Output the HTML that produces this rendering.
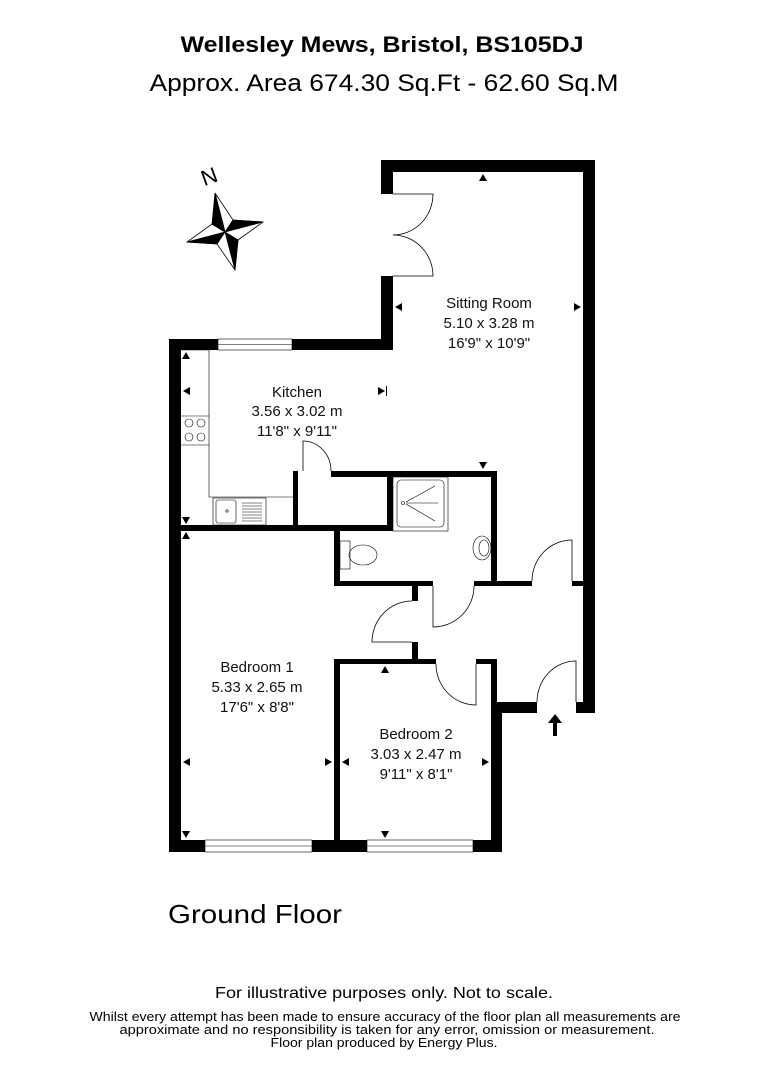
<!DOCTYPE html>
<html><head><meta charset="utf-8"><style>html,body{margin:0;padding:0;background:#fff}svg{display:block}</style></head>
<body>
<svg width="764" height="1080" viewBox="0 0 764 1080" xmlns="http://www.w3.org/2000/svg" font-family="Liberation Sans, sans-serif">
<rect width="764" height="1080" fill="#fff"/>
<text x="382" y="52" text-anchor="middle" font-size="22" font-weight="bold" textLength="403" lengthAdjust="spacingAndGlyphs">Wellesley Mews, Bristol, BS105DJ</text>
<text x="384" y="91" text-anchor="middle" font-size="24" textLength="469" lengthAdjust="spacingAndGlyphs">Approx. Area 674.30 Sq.Ft - 62.60 Sq.M</text>

<!-- compass -->
<text x="209" y="184" font-size="22" text-anchor="middle" transform="rotate(-20 209 176)">N</text>
<g stroke="#000" stroke-width="0.8" stroke-linejoin="miter">
<polygon points="225,232 215,193 233,220 263,222 238,240 235,270 217,244 187,242 212,224" fill="#fff"/>
<polygon points="225,232 215,193 212,224" fill="#000"/>
<polygon points="225,232 263,222 233,220" fill="#000"/>
<polygon points="225,232 235,270 238,240" fill="#000"/>
<polygon points="225,232 187,242 217,244" fill="#000"/>
</g>

<!-- walls -->
<g fill="#000">
<rect x="381" y="160" width="214" height="12"/>
<rect x="583" y="160" width="12" height="553"/>
<rect x="381" y="160" width="12" height="34"/>
<rect x="381" y="276" width="12" height="74"/>
<rect x="169" y="339" width="224" height="11"/>
<rect x="169" y="339" width="12" height="513"/>
<rect x="169" y="840" width="333" height="12"/>
<rect x="181" y="525" width="211" height="6"/>
<rect x="293" y="471" width="5" height="55"/>
<rect x="331" y="471" width="166" height="6"/>
<rect x="387" y="471" width="6" height="60"/>
<rect x="491" y="471" width="6" height="115"/>
<rect x="334" y="526" width="6" height="60"/>
<rect x="334" y="581" width="99" height="5"/>
<rect x="474" y="581" width="58" height="5"/>
<rect x="572" y="581" width="11" height="5"/>
<rect x="412" y="586" width="6" height="15"/>
<rect x="412" y="642" width="6" height="18"/>
<rect x="334" y="659" width="102" height="5"/>
<rect x="476" y="659" width="21" height="5"/>
<rect x="334" y="659" width="6" height="193"/>
<rect x="491" y="659" width="6" height="54"/>
<rect x="491" y="702" width="11" height="150"/>
<rect x="497" y="702" width="40" height="11"/>
<rect x="576" y="702" width="19" height="11"/>
</g>
<!-- windows -->
<g fill="#fff" stroke="#000" stroke-width="0.6">
<rect x="218" y="339" width="74" height="11"/>
<line x1="218" y1="344.5" x2="292" y2="344.5"/>
<rect x="205" y="840" width="107" height="12"/>
<line x1="205" y1="846" x2="312" y2="846"/>
<rect x="367" y="840" width="106" height="12"/>
<line x1="367" y1="846" x2="473" y2="846"/>
</g>

<!-- doors -->
<g fill="none" stroke="#000" stroke-width="0.8">
<path d="M393,194 L433,194 A40,41 0 0 1 393,235"/>
<path d="M393,276 L433,276 A40,41 0 0 0 393,235"/>
<path d="M303,471 L303,441 A28,30 0 0 1 331,471"/>
<path d="M433,586 L433,627 A41,41 0 0 0 474,586"/>
<path d="M412,642 L372,642 A40,41 0 0 1 412,601"/>
<path d="M476,664 L476,705 A40,41 0 0 1 436,664"/>
<path d="M572,581 L572,540 A40,41 0 0 0 532,581"/>
<path d="M576,702 L576,661 A39,41 0 0 0 537,702"/>
</g>

<!-- kitchen fittings -->
<g fill="none" stroke="#000" stroke-width="0.6">
<polyline points="181,350 209,350 209,497 293,497"/>
<line x1="181" y1="416" x2="209" y2="416"/>
<line x1="181" y1="445" x2="209" y2="445"/>
<circle cx="189" cy="423" r="4"/><circle cx="201" cy="423" r="4"/>
<circle cx="189" cy="437" r="4"/><circle cx="201" cy="437" r="4"/>
<rect x="216" y="500" width="20" height="23" rx="2"/>
<rect x="213" y="498" width="53" height="27"/>
<circle cx="227" cy="511" r="1.2"/>
<g stroke-width="0.5"><line x1="242" y1="503" x2="262" y2="503"/><line x1="242" y1="506" x2="262" y2="506"/><line x1="242" y1="509" x2="262" y2="509"/><line x1="242" y1="512" x2="262" y2="512"/><line x1="242" y1="515" x2="262" y2="515"/><line x1="242" y1="518" x2="262" y2="518"/><line x1="242" y1="521" x2="262" y2="521"/></g>
<!-- bathroom -->
<rect x="393" y="477" width="55" height="54"/>
<rect x="397" y="480" width="47" height="47" rx="4"/>
<circle cx="403" cy="503" r="1.5"/>
<line x1="406" y1="502" x2="435" y2="486"/>
<line x1="406" y1="503" x2="438" y2="503"/>
<line x1="406" y1="504" x2="435" y2="521"/>
<rect x="340" y="541" width="10" height="28"/>
<ellipse cx="363" cy="555" rx="14" ry="10"/>
<ellipse cx="482" cy="548" rx="9" ry="12"/>
<ellipse cx="484" cy="548" rx="5" ry="8"/>
</g>

<!-- dimension arrows -->
<g fill="#000">
<polygon points="483,174 479,181 487,181"/>
<polygon points="483,469 479,462 487,462"/>
<polygon points="395,307 402,303 402,311"/>
<polygon points="581,307 574,303 574,311"/>
<polygon points="183,391 190,387 190,395"/>
<polygon points="385,391 378,387 378,395"/>
<rect x="386" y="386" width="1" height="10"/>
<polygon points="186,352 182,359 190,359"/>
<polygon points="186,524 182,517 190,517"/>
<polygon points="186,532 182,539 190,539"/>
<polygon points="186,838 182,831 190,831"/>
<polygon points="183,762 190,758 190,766"/>
<polygon points="332,762 325,758 325,766"/>
<polygon points="342,762 349,758 349,766"/>
<polygon points="489,762 482,758 482,766"/>
<polygon points="385,666 381,673 389,673"/>
<polygon points="385,838 381,831 389,831"/>
<!-- entrance arrow -->
<polygon points="555,714 548,723 562,723"/>
<rect x="553" y="722" width="4" height="14"/>
</g>

<!-- labels -->
<g font-size="15" text-anchor="middle" fill="#111">
<text x="489" y="308">Sitting Room</text>
<text x="489" y="328">5.10 x 3.28 m</text>
<text x="489" y="348">16'9" x 10'9"</text>
<text x="297" y="397">Kitchen</text>
<text x="297" y="416">3.56 x 3.02 m</text>
<text x="297" y="436">11'8" x 9'11"</text>
<text x="257" y="672">Bedroom 1</text>
<text x="257" y="692">5.33 x 2.65 m</text>
<text x="257" y="712">17'6" x 8'8"</text>
<text x="416" y="739">Bedroom 2</text>
<text x="416" y="759">3.03 x 2.47 m</text>
<text x="416" y="779">9'11" x 8'1"</text>
</g>

<text x="168" y="923" font-size="26" textLength="174" lengthAdjust="spacingAndGlyphs">Ground Floor</text>
<text x="384" y="998" font-size="16" text-anchor="middle" textLength="338" lengthAdjust="spacingAndGlyphs">For illustrative purposes only. Not to scale.</text>
<g font-size="13" text-anchor="middle">
<text x="385" y="1021" textLength="591" lengthAdjust="spacingAndGlyphs">Whilst every attempt has been made to ensure accuracy of the floor plan all measurements are</text>
<text x="387" y="1034" textLength="535" lengthAdjust="spacingAndGlyphs">approximate and no responsibility is taken for any error, omission or measurement.</text>
<text x="384" y="1047" textLength="227" lengthAdjust="spacingAndGlyphs">Floor plan produced by Energy Plus.</text>
</g>
</svg>
</body></html>
